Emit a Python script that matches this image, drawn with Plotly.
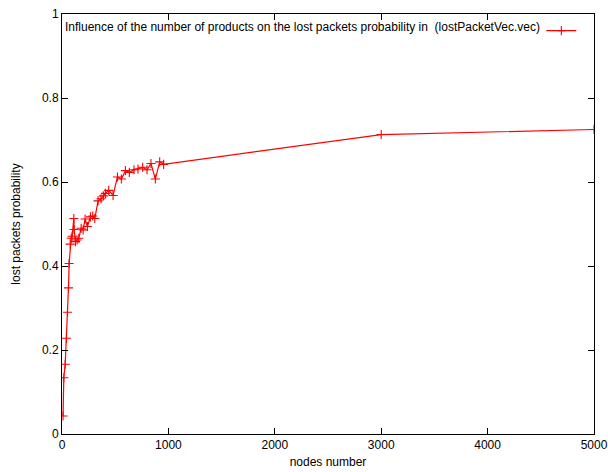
import plotly.graph_objects as go

nodes = [10, 17, 30, 42, 52, 61, 67, 77, 86, 95, 111, 114, 127, 142, 158, 180, 199,
         217, 239, 267, 289, 308, 339, 367, 389, 408, 439, 480, 521, 558, 596, 633,
         677, 714, 758, 799, 836, 877, 918, 955, 3000, 5000]
lost_prob = [0.043, 0.134, 0.166, 0.228, 0.290, 0.348, 0.406, 0.452, 0.466, 0.471,
             0.513, 0.487, 0.458, 0.462, 0.466, 0.490, 0.486, 0.512, 0.494, 0.517,
             0.519, 0.513, 0.555, 0.560, 0.567, 0.573, 0.580, 0.568, 0.612, 0.607,
             0.627, 0.623, 0.629, 0.631, 0.635, 0.629, 0.644, 0.607, 0.648, 0.642,
             0.713, 0.725]

x_ticks = [0, 1000, 2000, 3000, 4000, 5000]
y_ticks = [0, 0.2, 0.4, 0.6, 0.8, 1]
y_tick_labels = ["0", "0.2", "0.4", "0.6", "0.8", "1"]

legend_text = "Influence of the number of products on the lost packets probability in  (lostPacketVec.vec)"

FONT = "Liberation Sans, Arial, sans-serif"

fig = go.Figure()
fig.add_trace(go.Scatter(
    x=nodes, y=lost_prob, mode="lines+markers", name=" ",
    line=dict(color="#ff0000", width=1.2),
    marker=dict(symbol="cross-thin-open", size=6.5, color="#ff0000",
                line=dict(color="#ff0000", width=1.1)),
))

fig.update_layout(
    width=608, height=472,
    margin=dict(l=62, r=14, t=14, b=38, autoexpand=False),
    paper_bgcolor="white", plot_bgcolor="white",
    font=dict(family=FONT, size=12, color="black"),
    showlegend=True,
    legend=dict(x=0.901, y=0.995, xanchor="left", yanchor="top",
                bgcolor="rgba(0,0,0,0)", borderwidth=0,
                font=dict(size=12), itemwidth=30),
    xaxis=dict(range=[0, 5000], tickvals=x_ticks, ticks="inside", ticklen=6,
               tickcolor="black", showline=True, linecolor="black", linewidth=1,
               mirror="allticks", showgrid=False, zeroline=False, automargin=True,
               title=dict(text="nodes number", standoff=6, font=dict(size=12))),
    yaxis=dict(range=[0, 1], tickvals=y_ticks, ticktext=y_tick_labels, ticks="inside",
               ticklen=6, tickcolor="black", showline=True, linecolor="black",
               linewidth=1, mirror="allticks", showgrid=False, zeroline=False,
               automargin=True,
               title=dict(text="lost packets probability", standoff=18, font=dict(size=12))),
    annotations=[dict(text=legend_text, xref="paper", yref="paper", x=0.9015, y=0.968,
                      xanchor="right", yanchor="middle", showarrow=False,
                      font=dict(size=12))],
)

fig.write_html("out.html", config={"displayModeBar": False},
               post_script="document.body.style.margin='0';document.body.style.overflow='hidden';")
